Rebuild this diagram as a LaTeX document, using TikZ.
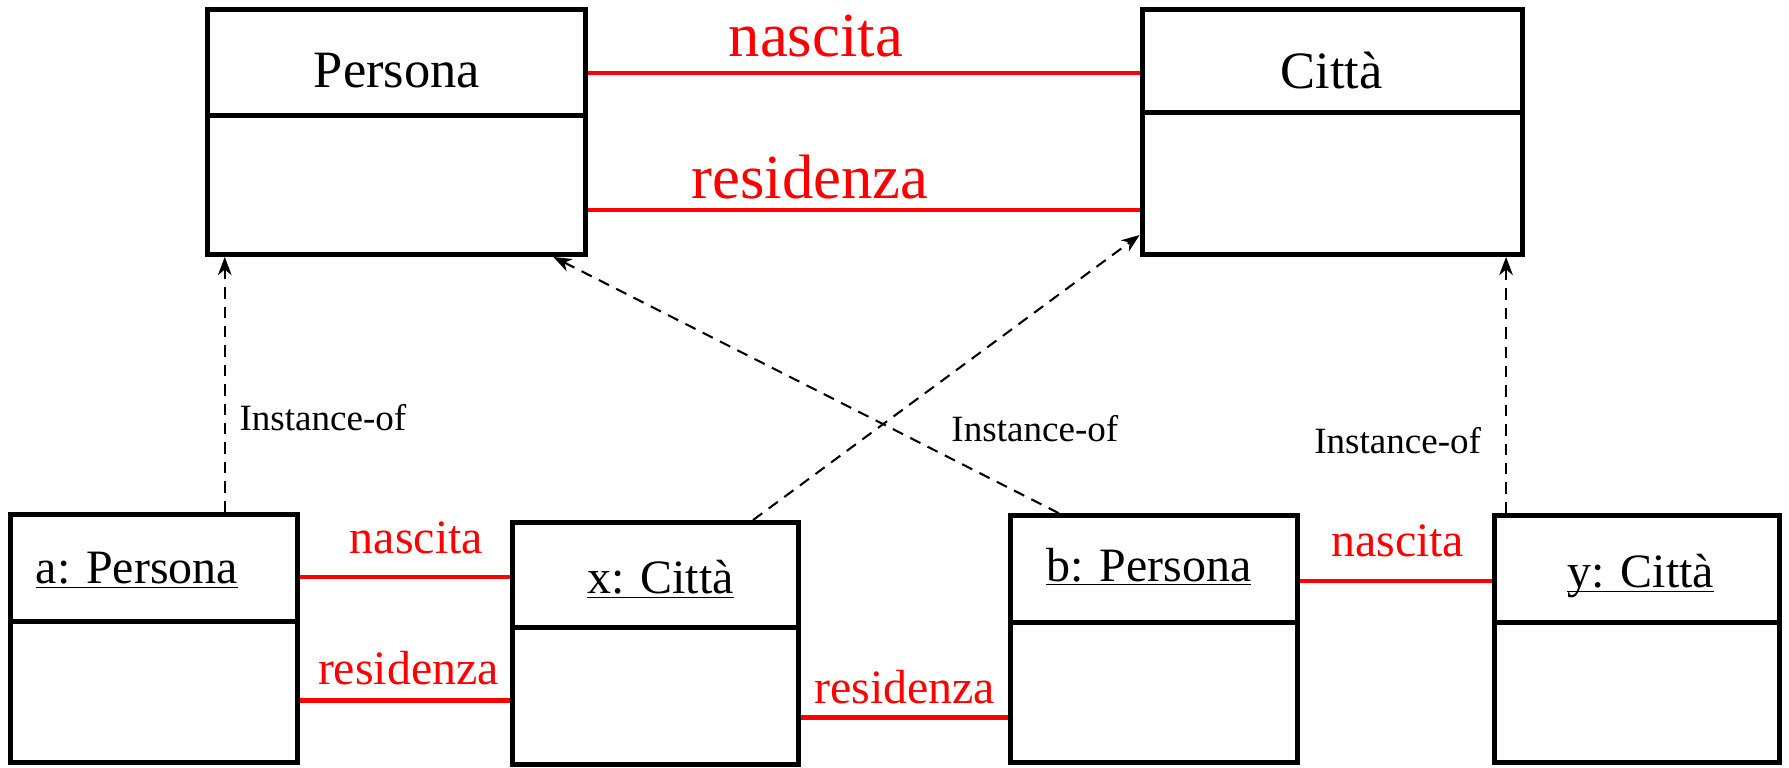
\documentclass[tikz,border=0pt]{standalone}
\usepackage{fontspec}
\setmainfont{Liberation Serif}
\usetikzlibrary{positioning}
\usetikzlibrary{calc}
\usetikzlibrary{arrows.meta}

\begin{document}
\begin{tikzpicture}[x=0.5pt, y=-0.5pt]
    % styles for boxes, associations and instance-of links
    \tikzstyle{boxline} = [draw=black, line width=2.2pt]
    \tikzstyle{assoc} = [draw=red, line width=1.9pt]
    \tikzstyle{biglabel} = [text=red, font=\fontsize{27.5}{30}\selectfont, inner sep=0pt]
    \tikzstyle{smalllabel} = [text=red, font=\fontsize{21}{24}\selectfont, inner sep=0pt]
    \tikzstyle{instof} = [draw=black, line width=0.9pt, dash pattern=on 5pt off 3.5pt,
        -{Stealth[length=8pt, width=6pt, inset=2.5pt]}]
    \tikzstyle{instlabel} = [font=\fontsize{16.25}{19}\selectfont, inner sep=0pt]

    \useasboundingbox (0,0) rectangle (1568,673);

    % boxes: name / left / top / right / bottom / divider / text x / text y / font size / text
    \foreach \n/\l/\t/\r/\b/\d/\tx/\ty/\fs/\txt in {
        P/182/8/513/223/101/348/62/23/{Persona},
        C/1001/8/1334/223/99/1167/62/23/{Città},
        a/9/451/261/668/545/120/500/21/{\underline{a: Persona}},
        x/449/458/700/670/550/579/508/21/{\underline{x: Città}},
        b/886/452/1137/668/546/1007/497/21/{\underline{b: Persona}},
        y/1310/452/1560/668/546/1438/503/21/{\underline{\smash{y}: Città}}
    } {
        \node (\n) [boxline, rectangle, inner sep=0pt,
            minimum width={(\r-\l)*0.5pt}, minimum height={(\b-\t)*0.5pt}
        ] at ({(\l+\r)/2}, {(\t+\b)/2}) {};
        \draw[boxline] (\n.west |- 0,\d) -- (\n.east |- 0,\d);
        \node (\n-name) [font=\fontsize{\fs}{\fs}\selectfont, inner sep=0pt]
            at (\tx, \ty) {\txt};
    }

    % associations between the classes
    \draw[assoc] (P.east |- 0,64) -- (C.west |- 0,64);
    \node (nascPC) [biglabel] at (715,32) {nascita};
    \draw[assoc] (P.east |- 0,184) -- (C.west |- 0,184);
    \node (resPC) [biglabel] at (710,155) {residenza};

    % links between the objects
    \draw[assoc] (a.east |- 0,506) -- (x.west |- 0,506);
    \node (nascAX) [smalllabel] at (365,471) {nascita};
    \draw[assoc] (a.east |- 0,614) -- (x.west |- 0,614);
    \node (resAX) [smalllabel] at (358,586) {residenza};
    \draw[assoc] (x.east |- 0,629) -- (b.west |- 0,629);
    \node (resXB) [smalllabel] at (793,602) {residenza};
    \draw[assoc] (b.east |- 0,509) -- (y.west |- 0,509);
    \node (nascBY) [smalllabel] at (1225,474) {nascita};

    % instance-of links
    \draw[instof] (a.north -| 197,0) -- (P.south -| 197,0);
    \draw[instof] (x.north -| 660,0) -- (C.west |- 0,206);
    \draw[instof] (b.north -| 928,0) -- (P.south -| 485,0);
    \draw[instof] (y.north -| 1320,0) -- (C.south -| 1320,0);
    \node (instA) [instlabel] at (283,366) {Instance-of};
    \node (instB) [instlabel] at (907,376) {Instance-of};
    \node (instY) [instlabel] at (1225,386) {Instance-of};
\end{tikzpicture}
\end{document}
